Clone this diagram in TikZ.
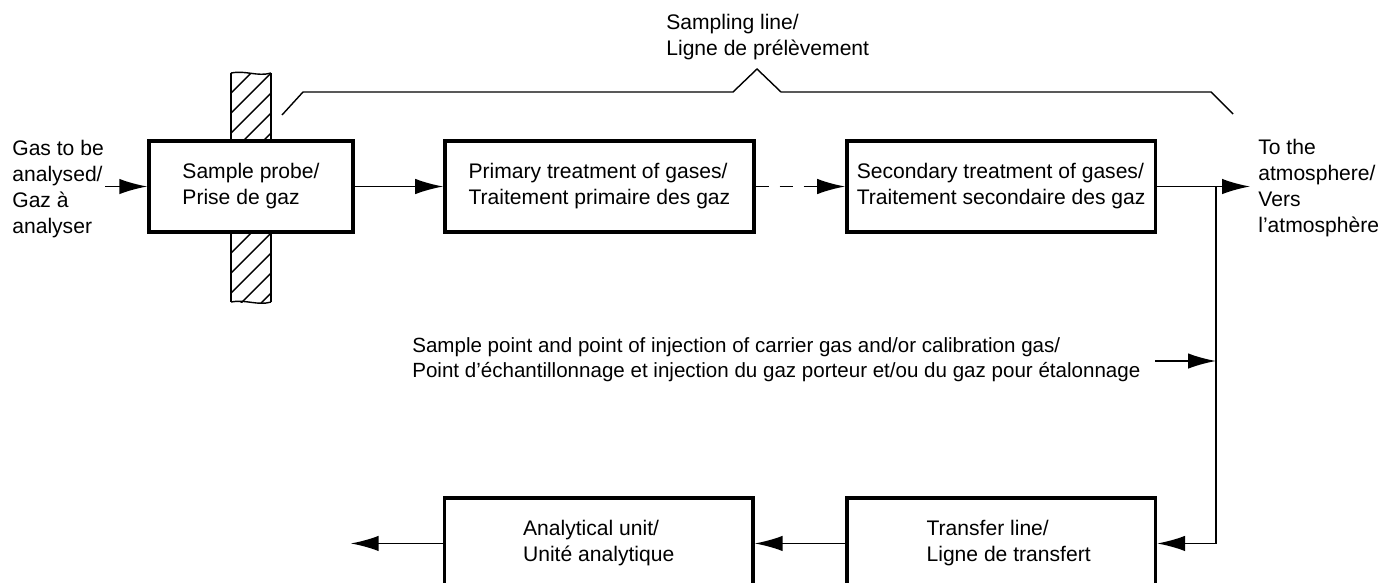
\documentclass[tikz,border=0pt]{standalone}
\usepackage{fontspec}
\setmainfont{Liberation Sans}
\usetikzlibrary{positioning, arrows.meta}

\begin{document}
\begin{tikzpicture}[x=0.02cm, y=-0.02cm, node distance=1.8cm,
    font=\fontsize{12}{14.8}\selectfont,
    box/.style = {draw, rectangle, line width=2pt, fill=white, align=left,
                  minimum width=6.17cm, minimum height=1.82cm, inner sep=2pt},
    txt/.style = {align=left, inner sep=0pt},
    arrow/.style = {line width=1pt, -{Latex[length=0.56cm, width=0.31cm]}},
    thin/.style = {line width=0.8pt}]

    \useasboundingbox (0,0) rectangle (1391,582);

    % Wall
    \begin{scope}
        \clip (231,73) rectangle (271,302);
        \foreach \k in {0,...,13}
            \draw [thin] (231,93+20*\k) -- ++(40,-40);
    \end{scope}
    \draw [line width=1.5pt] (231,73) -- (231,302) (271,73) -- (271,302);
    \draw [thin] (231,73) .. controls (245,70) and (258,77) .. (271,73);
    \draw [thin] (231,302) .. controls (245,299) and (258,306) .. (271,302);

    % Blocks
    \node [box, minimum width=4.08cm] (probe) at (251,186.5) {Sample probe/\\Prise de gaz};
    \node [box, minimum width=6.18cm] (primary) [right=1.77cm of probe] {Primary treatment of gases/\\Traitement primaire des gaz};
    \node [box] (secondary) [right=1.79cm of primary] {Secondary treatment of gases/\\Traitement secondaire des gaz};
    \node [box] (transfer) [below=5.25cm of secondary] {\hspace{0.3cm}Transfer line/\\\hspace{0.3cm}Ligne de transfert};
    \node [box] (analyser) [left=1.81cm of transfer] {Analytical unit/\\Unité analytique\hspace{0.4cm}};

    % Texts
    \node [txt, anchor=west] (gasin) at (12,189.5) {Gas to be\\analysed/\\Gaz à\\analyser};
    \node [txt, anchor=west] (atmo) at (1258,188) {To the\\atmosphere/\\Vers\\l’atmosphère};
    \node [txt, anchor=west] (sampling) at (666,37.5) {Sampling line/\\Ligne de prélèvement};
    \node [txt, anchor=west, font=\fontsize{11.7}{14.2}\selectfont] (inject) at (412,360)
        {Sample point and point of injection of carrier gas and/or calibration gas/\\Point d’échantillonnage et injection du gaz porteur et/ou du gaz pour étalonnage};

    % Sampling line bracket
    \draw [thin] (282,115) -- (303,92) -- (733,92) -- (757,69) -- (781,92) -- (1211,92) -- (1233,114);

    % Flows
    \coordinate (gasstart) at (105,186.5);
    \coordinate (outlet) at (1250,186.5);
    \coordinate (branch) at (1216,186.5);
    \coordinate (injpoint) at (1155,361);
    \coordinate (exit) at ([xshift=-1.84cm]analyser.west);
    \draw [arrow] (gasstart) -- (probe);
    \draw [arrow] (probe) -- (primary);
    \draw [arrow, dash pattern=on 0.26cm off 0.22cm] (primary) -- (secondary);
    \draw [arrow] (secondary) -- (outlet);
    \draw [arrow] (branch) |- (transfer.east);
    \draw [arrow] (injpoint) -- (injpoint -| branch);
    \draw [arrow] (transfer) -- (analyser);
    \draw [arrow] (analyser) -- (exit);
\end{tikzpicture}
\end{document}
